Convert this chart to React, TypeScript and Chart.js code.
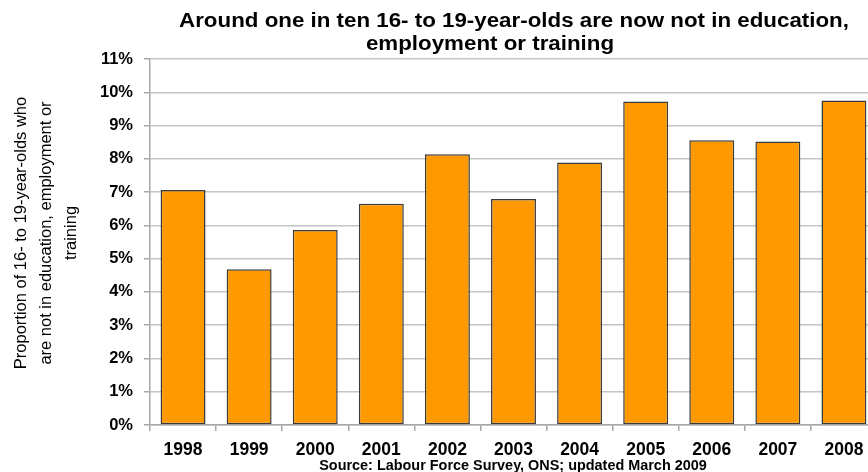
import React, { useEffect, useRef } from "react";
import { Chart, registerables } from "chart.js";

Chart.register(...registerables);

const years = ["1998", "1999", "2000", "2001", "2002", "2003", "2004", "2005", "2006", "2007", "2008"];
const neetShare = [7.06, 4.68, 5.86, 6.65, 8.14, 6.79, 7.89, 9.72, 8.56, 8.52, 9.75];
const yTickMax = 11;
const titleLines = ["Around one in ten 16- to 19-year-olds are now not in education,", "employment or training"];
const yTitleLines = ["Proportion of 16- to 19-year-olds who", "are not in education, employment or", "training"];
const sourceText = "Source: Labour Force Survey, ONS; updated March 2009";

const FONT = "'Liberation Sans', Arial, sans-serif";

function stretchedText(ctx: any, text: string, cx: number, y: number, sx: number) {
  ctx.save();
  ctx.translate(cx, y);
  ctx.scale(sx, 1);
  ctx.fillText(text, 0, 0);
  ctx.restore();
}

const textPlugin = {
  id: "textPlugin",
  afterDraw(chart: any) {
    const ctx = chart.ctx;
    ctx.save();
    ctx.fillStyle = "#000";
    ctx.textBaseline = "alphabetic";
    ctx.textAlign = "center";
    ctx.font = `bold 19.5px ${FONT}`;
    stretchedText(ctx, titleLines[0], 514, 27, 1.145);
    stretchedText(ctx, titleLines[1], 490, 50, 1.145);
    ctx.font = `bold 14px ${FONT}`;
    stretchedText(ctx, sourceText, 513, 470, 1.03);
    ctx.font = `16.5px ${FONT}`;
    ctx.translate(0, 233);
    ctx.rotate(-Math.PI / 2);
    const xs = [26, 51, 76];
    yTitleLines.forEach((t, i) => {
      ctx.fillText(t, 0, xs[i]);
    });
    ctx.restore();
  },
};

export default function App() {
  const ref = useRef<HTMLCanvasElement>(null);
  useEffect(() => {
    document.body.style.margin = "0";
    document.body.style.overflow = "hidden";
    const chart = new Chart(ref.current!, {
      type: "bar",
      data: {
        labels: years,
        datasets: [
          {
            data: neetShare,
            backgroundColor: "#FF9900",
            borderColor: "#3a3a3a",
            borderWidth: 1.5,
            borderSkipped: false,
            barPercentage: 0.68,
            categoryPercentage: 1,
          },
        ],
      },
      options: {
        responsive: false,
        animation: false,
        devicePixelRatio: 1,
        layout: { padding: { left: 0, top: 59, right: 8, bottom: 0 } },
        plugins: { legend: { display: false }, title: { display: false }, tooltip: { enabled: false } },
        scales: {
          x: {
            offset: true,
            grid: { display: true, drawOnChartArea: false, drawTicks: true, tickLength: 6, color: "#a8a8a8", lineWidth: 1.5 },
            border: { display: true, color: "#a8a8a8", width: 1.5 },
            ticks: { color: "#000", font: { family: FONT, size: 17.5, weight: "bold" }, padding: 9, maxRotation: 0 },
            afterFit: (s: any) => { s.height = 47; },
          },
          y: {
            min: 0,
            max: yTickMax,
            grid: { color: "#c4c4c4", lineWidth: 1.5, tickLength: 6, tickColor: "#a8a8a8" },
            border: { display: true, color: "#a8a8a8", width: 1.5 },
            ticks: {
              stepSize: 1,
              color: "#000",
              font: { family: FONT, size: 16.5, weight: "bold" },
              padding: 11,
              callback: (v: any) => `${v}%`,
            },
            afterFit: (s: any) => { s.width = 150; },
          },
        },
      },
      plugins: [textPlugin],
    });
    return () => chart.destroy();
  }, []);
  return <canvas ref={ref} width={885} height={472} style={{ display: "block", width: 885, height: 472 }} />;
}
